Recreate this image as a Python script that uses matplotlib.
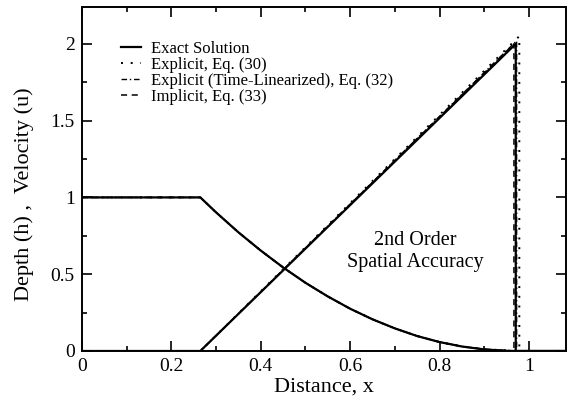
import matplotlib.pyplot as plt
from matplotlib.ticker import MultipleLocator

plt.rcParams['font.family'] = ['Liberation Serif', 'DejaVu Serif']

# exact solution
x_h = [0, 0.265, 0.3, 0.35, 0.4, 0.45, 0.5, 0.55, 0.6, 0.65, 0.7, 0.75, 0.8, 0.85, 0.9, 0.95, 0.97, 1.085]
h_exact = [1.0, 1.0, 0.903, 0.773, 0.654, 0.544, 0.444, 0.355, 0.275, 0.206, 0.147, 0.097, 0.058, 0.029, 0.010, 0.001, 0.0, 0.0]
x_u = [0, 0.265, 0.97, 0.97, 1.085]
u_exact = [0, 0, 2.0, 0, 0]

# numerical solutions (near-identical away from the front)
x_h_num = [0, 0.265, 0.3, 0.35, 0.4, 0.45, 0.5, 0.55, 0.6, 0.65, 0.7, 0.75, 0.8, 0.85, 0.9, 0.95, 0.975, 1.085]
h_ex30 = [1.0, 1.0, 0.903, 0.773, 0.654, 0.544, 0.444, 0.355, 0.275, 0.206, 0.147, 0.097, 0.058, 0.030, 0.012, 0.004, 0.0, 0.0]
h_ex32 = [1.0, 1.0, 0.903, 0.773, 0.654, 0.544, 0.444, 0.355, 0.275, 0.206, 0.147, 0.097, 0.058, 0.030, 0.011, 0.003, 0.0, 0.0]
h_im33 = [1.0, 1.0, 0.903, 0.773, 0.654, 0.544, 0.444, 0.355, 0.275, 0.206, 0.147, 0.097, 0.058, 0.029, 0.011, 0.003, 0.0, 0.0]
x_u_ex30 = [0, 0.265, 0.978, 0.978, 1.085]
u_ex30 = [0, 0, 2.05, 0, 0]
x_u_ex32 = [0, 0.265, 0.972, 0.972, 1.085]
u_ex32 = [0, 0, 2.02, 0, 0]
x_u_im33 = [0, 0.265, 0.966, 0.966, 1.085]
u_im33 = [0, 0, 2.0, 0, 0]

fig = plt.figure(figsize=(5.68, 4.11), dpi=100)
ax = fig.add_axes([0.144, 0.146, 0.853, 0.837])

ax.plot(x_h, h_exact, 'k-', lw=1.6, label='Exact Solution')
ax.plot(x_h_num, h_ex30, 'k', ls=(0, (1, 4)), lw=1.4, label='Explicit, Eq. (30)')
ax.plot(x_h_num, h_ex32, 'k', ls=(0, (4, 2, 1, 2)), lw=1.0, label='Explicit (Time-Linearized), Eq. (32)')
ax.plot(x_h_num, h_im33, 'k', ls=(0, (4, 3)), lw=1.1, label='Implicit, Eq. (33)')

ax.plot(x_u, u_exact, 'k-', lw=1.6)
ax.plot(x_u_ex30, u_ex30, 'k', ls=(0, (1, 4)), lw=1.4)
ax.plot(x_u_ex32, u_ex32, 'k', ls=(0, (4, 2, 1, 2)), lw=1.0)
ax.plot(x_u_im33, u_im33, 'k', ls=(0, (4, 3)), lw=1.1)

ax.text(0.745, 0.65, '2nd Order\nSpatial Accuracy', ha='center', va='center', fontsize=14.5)

ax.set_xlim(0, 1.083)
ax.set_ylim(0, 2.24)
ax.xaxis.set_major_locator(MultipleLocator(0.2))
ax.xaxis.set_minor_locator(MultipleLocator(0.1))
ax.yaxis.set_major_locator(MultipleLocator(0.5))
ax.yaxis.set_minor_locator(MultipleLocator(0.25))
ax.xaxis.set_major_formatter(plt.FuncFormatter(lambda v, p: '%g' % round(v, 2)))
ax.yaxis.set_major_formatter(plt.FuncFormatter(lambda v, p: '%g' % round(v, 2)))
ax.tick_params(which='both', direction='in', top=True, right=True, labelsize=14, width=1.2)
ax.tick_params(which='major', length=7, pad=5)
ax.tick_params(which='minor', length=3.5)
for s in ax.spines.values():
    s.set_linewidth(1.4)

ax.set_xlabel('Distance, x', fontsize=16, labelpad=2)
ax.set_ylabel('Depth (h) ,  Velocity (u)', fontsize=16)
ax.yaxis.set_label_coords(-0.098, 0.455)

ax.legend(loc='upper left', bbox_to_anchor=(0.05, 0.945), frameon=False, fontsize=12,
          handlelength=1.2, handletextpad=0.6, labelspacing=0.0)

fig.savefig('out.png', dpi=100)
